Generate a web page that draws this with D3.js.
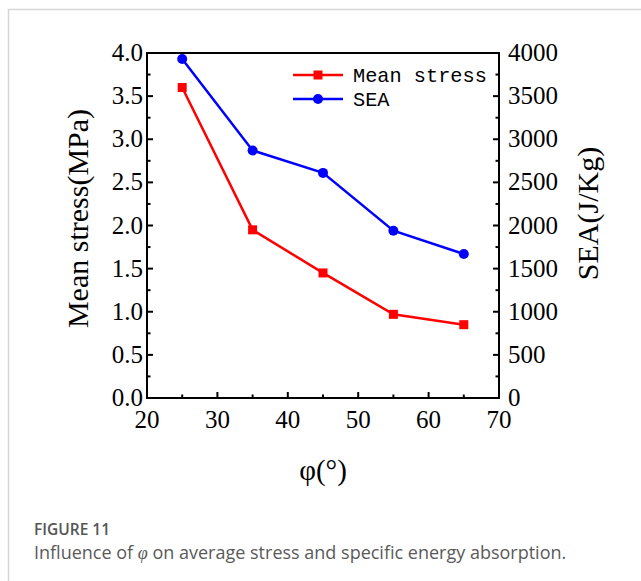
<!DOCTYPE html>
<html><head><meta charset="utf-8">
<script src="https://cdn.jsdelivr.net/npm/d3@7"></script>
<style>body{margin:0;background:#fff;}svg{display:block;}</style>
</head><body>
<svg id="c" width="641" height="581"></svg>
<script>
const angles = [25, 35, 45, 55, 65];
const meanStress = [3.60, 1.95, 1.45, 0.97, 0.85];
const sea = [3930, 2870, 2610, 1940, 1670];
const xTicks = [20, 30, 40, 50, 60, 70];
const yLeftTicks = [0, 0.5, 1.0, 1.5, 2.0, 2.5, 3.0, 3.5, 4.0];
const yRightTicks = [0, 500, 1000, 1500, 2000, 2500, 3000, 3500, 4000];

const svg = d3.select("#c");
svg.append("path").attr("d","M8.5,581 V9.5 H641").attr("fill","none").attr("stroke","#d6d6d6").attr("stroke-width",1.5);

const L=147, R=499, T=53, B=398;
const x = d3.scaleLinear().domain([20,70]).range([L,R]);
const yL = d3.scaleLinear().domain([0,4]).range([B,T]);
const yR = d3.scaleLinear().domain([0,4000]).range([B,T]);
const serif = "'Liberation Serif','Times New Roman',serif";

const g = svg.append("g");
g.append("rect").attr("x",L).attr("y",T).attr("width",R-L).attr("height",B-T).attr("fill","none").attr("stroke","#000").attr("stroke-width",2);

const tk = g.append("g").attr("stroke","#000").attr("stroke-width",2);
for (let v=20; v<=70; v+=5){
  const len = (v%10===0)?6:3.5;
  tk.append("line").attr("x1",x(v)).attr("x2",x(v)).attr("y1",B).attr("y2",B-len);
}
for (let i=0;i<=16;i++){
  const v=i*0.25, len=(i%2===0)?6:3.5;
  tk.append("line").attr("x1",L).attr("x2",L+len).attr("y1",yL(v)).attr("y2",yL(v));
  tk.append("line").attr("x1",R).attr("x2",R-len).attr("y1",yL(v)).attr("y2",yL(v));
}

const txt = g.append("g").attr("font-family",serif).attr("fill","#000");
xTicks.forEach(v=>{
  txt.append("text").attr("x",x(v)).attr("y",B+30).attr("text-anchor","middle").attr("font-size",25).text(v);
});
yLeftTicks.forEach(v=>{
  txt.append("text").attr("x",L-4).attr("y",yL(v)+8).attr("text-anchor","end").attr("font-size",25).text(v.toFixed(1));
});
yRightTicks.forEach(v=>{
  txt.append("text").attr("x",R+9).attr("y",yR(v)+8).attr("text-anchor","start").attr("font-size",25).text(v);
});
txt.append("text").attr("transform",`translate(88,${(T+B)/2-7}) rotate(-90)`).attr("text-anchor","middle").attr("font-size",30).text("Mean stress(MPa)");
txt.append("text").attr("transform",`translate(598,${(T+B)/2-12}) rotate(-90)`).attr("text-anchor","middle").attr("font-size",30).text("SEA(J/Kg)");
txt.append("text").attr("x",(L+R)/2).attr("y",480).attr("text-anchor","middle").attr("font-size",29).text("φ(°)");

const line1 = d3.line().x((d,i)=>x(angles[i])).y(d=>yL(d));
const line2 = d3.line().x((d,i)=>x(angles[i])).y(d=>yR(d));
g.append("path").datum(sea).attr("d",line2).attr("fill","none").attr("stroke","#0000ff").attr("stroke-width",2.5);
g.append("path").datum(meanStress).attr("d",line1).attr("fill","none").attr("stroke","#ff0000").attr("stroke-width",2.5);
g.selectAll(".sq").data(meanStress).enter().append("rect").attr("x",(d,i)=>x(angles[i])-4.5).attr("y",d=>yL(d)-4.5).attr("width",9).attr("height",9).attr("fill","#ff0000");
g.selectAll(".ci").data(sea).enter().append("circle").attr("cx",(d,i)=>x(angles[i])).attr("cy",d=>yR(d)).attr("r",5).attr("fill","#0000ff");

const lg = g.append("g");
const items = [{name:"Mean stress", color:"#ff0000", shape:"sq"},{name:"SEA", color:"#0000ff", shape:"ci"}];
items.forEach((it,i)=>{
  const yy = 75 + i*24;
  lg.append("line").attr("x1",293).attr("x2",343).attr("y1",yy).attr("y2",yy).attr("stroke",it.color).attr("stroke-width",2.5);
  if(it.shape==="sq") lg.append("rect").attr("x",313.5).attr("y",yy-4.5).attr("width",9).attr("height",9).attr("fill",it.color);
  else lg.append("circle").attr("cx",318).attr("cy",yy).attr("r",5).attr("fill",it.color);
  lg.append("text").attr("x",353).attr("y",yy+7).attr("font-family","'Liberation Mono','Courier New',monospace").attr("font-size",20.3).attr("fill","#000").text(it.name);
});

svg.append("text").attr("x",34).attr("y",535).attr("font-family","'Open Sans',sans-serif").attr("font-size",15.5).attr("font-weight",600).attr("fill","#555").text("FIGURE 11");
svg.append("text").attr("x",34).attr("y",559).attr("font-family","'Open Sans',sans-serif").attr("font-size",18).attr("fill","#5a5a5a")
  .html("Influence of <tspan font-family=\"'Liberation Serif',serif\" font-style=\"italic\">φ</tspan> on average stress and specific energy absorption.");
</script>
</body></html>
